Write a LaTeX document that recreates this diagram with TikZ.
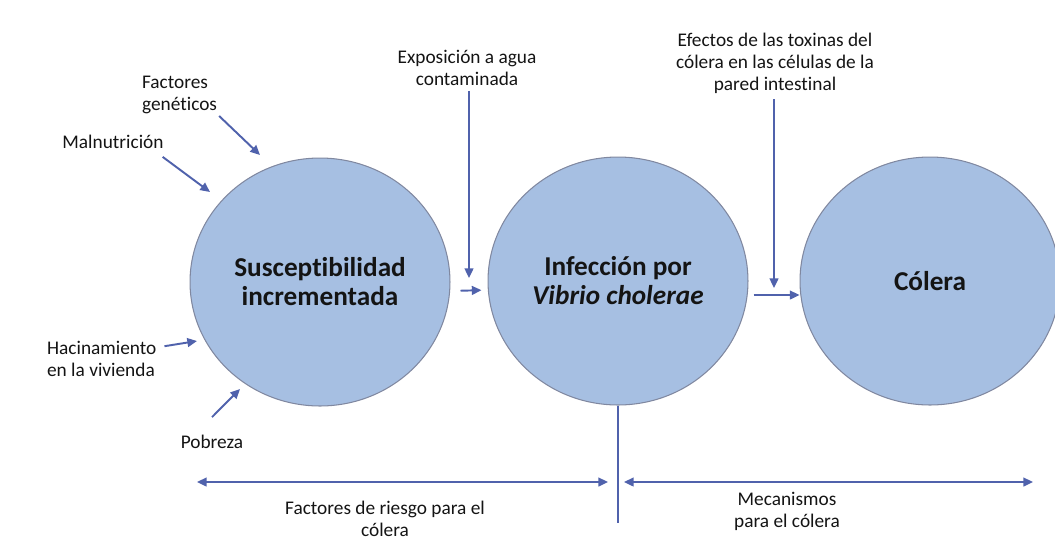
\documentclass[tikz,border=0pt]{standalone}
\usepackage{fontspec}
\setmainfont{Carlito}[Ligatures=NoCommon]
\usepackage{xcolor}
\usepackage{tikz}
\usetikzlibrary{arrows.meta,shapes.geometric,calc}
\definecolor{stagefill}{RGB}{166,191,226}
\definecolor{stagedraw}{RGB}{128,136,160}
\definecolor{linkblue}{RGB}{80,98,172}

\begin{document}
\begin{tikzpicture}[
    x=0.02cm, y=-0.02cm,
    stage/.style={ellipse, draw=stagedraw, line width=0.6pt, fill=stagefill, minimum width=5.2cm, minimum height=4.96cm, inner sep=0pt, align=center, text=black!92, font=\fontsize{15.5}{16.5}\selectfont\bfseries},
    factor/.style={font=\fontsize{11}{12.5}\selectfont, text=black!92, inner sep=1pt},
    link/.style={-{Triangle[length=5.5pt,width=5pt]}, line width=1.1pt, draw=linkblue},
    span/.style={{Triangle[length=5.5pt,width=5pt]}-{Triangle[length=5.5pt,width=5pt]}, line width=1.1pt, draw=linkblue}
]
\useasboundingbox (0,0) rectangle (1055,539);
\node[stage] (sus) at (320,282) {Susceptibilidad\\incrementada};
\node[stage] (inf) at (618,281) {Infección por\\\textit{Vibrio cholerae}};
\node[stage] (col) at (930,281) {Cólera};
\node[factor, anchor=west, align=left] (gen) at (140,95) {Factores\\genéticos};
\node[factor] (mal) at (113,142) {Malnutrición};
\node[factor, anchor=west, align=left] (hac) at (45,359) {Hacinamiento\\en la vivienda};
\node[factor] (pob) at (212,442) {Pobreza};
\node[factor, align=center] (expo) at (467,68) {Exposición a agua\\contaminada};
\node[factor, align=center] (efec) at (775,63) {Efectos de las toxinas del\\cólera en las células de la\\pared intestinal};
\node[factor, align=center] (riesgo) at (385,519) {Factores de riesgo para el\\cólera};
\node[factor, align=center] (mecan) at (787,511) {Mecanismos\\para el cólera};
\coordinate (gen-tip) at (260,155);
\coordinate (mal-tip) at (210,192);
\coordinate (hac-tip) at (197,341);
\coordinate (pob-tip) at (240,389);
\coordinate (expo-tip) at (469,278);
\coordinate (efec-tip) at (774,288);
\coordinate (riesgo-l) at (197,482);
\coordinate (riesgo-r) at (608,482);
\coordinate (mecan-l) at (624,482);
\coordinate (mecan-r) at (1033,482);
\draw[link] (gen.south east) -- (gen-tip);
\draw[link] ($(mal.south east)+(-3,6)$) -- (mal-tip);
\draw[link] ($(hac.north east)+(6,7)$) -- (hac-tip);
\draw[link] ($(pob.north)+(0,-16)$) -- (pob-tip);
\draw[link] ($(expo.south -| expo-tip)+(0,3)$) -- (expo-tip);
\draw[link] ($(efec.south -| efec-tip)+(0,4)$) -- (efec-tip);
\draw[link, shorten <=0.2cm, shorten >=0.12cm] ($(sus.east)+(0,9)$) -- ($(inf.west)+(0,9)$);
\draw[link, shorten <=0.1cm] ($(inf.east)+(0,14)$) -- ($(col.west)+(0,14)$);
\draw[line width=1.1pt, draw=linkblue] (inf.south) -- ++(0,117);
\draw[span] (riesgo-l) -- (riesgo-r);
\draw[span] (mecan-l) -- (mecan-r);
\end{tikzpicture}
\end{document}
